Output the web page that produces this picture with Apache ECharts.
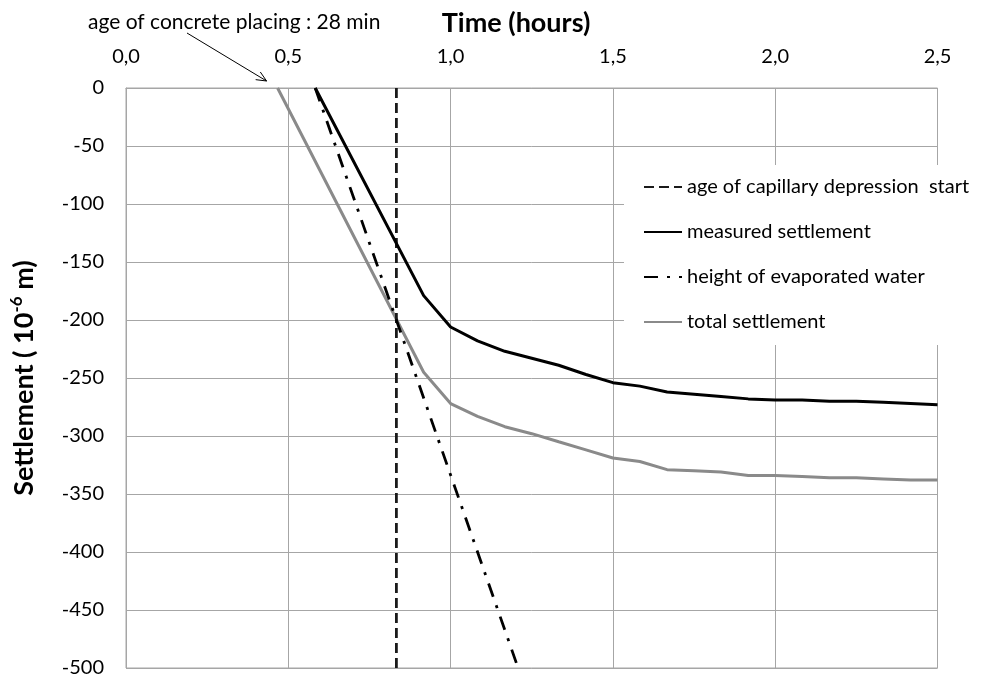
<!DOCTYPE html>
<html>
<head>
<meta charset="utf-8">
<script src="https://cdn.jsdelivr.net/npm/echarts@6/dist/echarts.min.js"></script>
<style>
html,body{margin:0;padding:0;background:#fff;}
#chart{width:990px;height:682px;}
</style>
</head>
<body>
<div id="chart"></div>
<script>
// ---- data (time in hours, settlement in 10^-6 m) ----
var xTicks = [0, 0.5, 1.0, 1.5, 2.0, 2.5];
var yTicks = [0, -50, -100, -150, -200, -250, -300, -350, -400, -450, -500];

var capTime = [0.833, 0.833];
var capValue = [0, -500];

var measuredTime = [0.583, 0.917, 1.0, 1.083, 1.167, 1.25, 1.333, 1.417, 1.5, 1.583, 1.667, 1.75, 1.833, 1.917, 2.0, 2.083, 2.167, 2.25, 2.333, 2.417, 2.5];
var measuredValue = [0, -179, -206, -218, -227, -233, -239, -247, -254, -257, -262, -264, -266, -268, -269, -269, -270, -270, -271, -272, -273];

var evapTime = [0.583, 1.208];
var evapValue = [0, -500];

var totalTime = [0.467, 0.917, 1.0, 1.083, 1.167, 1.25, 1.333, 1.417, 1.5, 1.583, 1.667, 1.75, 1.833, 1.917, 2.0, 2.083, 2.167, 2.25, 2.333, 2.417, 2.5];
var totalValue = [0, -245, -272, -283, -292, -298, -305, -312, -319, -322, -329, -330, -331, -334, -334, -335, -336, -336, -337, -338, -338];

var seriesNames = ['age of capillary depression  start', 'measured settlement', 'height of evaporated water', 'total settlement'];
var xTitle = 'Time (hours)';
var annotationText = 'age of concrete placing : 28 min';
var placingTime = 0.467;

function zip(a, b) { return a.map(function (v, i) { return [v, b[i]]; }); }

var FONT = 'Lato';
var chart = echarts.init(document.getElementById('chart'));
var option = {
  animation: false,
  backgroundColor: '#fff',
  textStyle: { fontFamily: FONT },
  grid: { left: 125, right: 52.5, top: 88, bottom: 14, show: true, borderColor: '#a6a6a6', borderWidth: 1, backgroundColor: 'transparent' },
  xAxis: {
    type: 'value', position: 'top', min: 0, max: 2.5, interval: 0.5,
    axisLine: { show: true, lineStyle: { color: '#a6a6a6' } },
    axisTick: { show: false },
    axisLabel: { fontSize: 20, color: '#000', margin: 21, formatter: function (v) { return v.toFixed(1).replace('.', ','); } },
    splitLine: { show: true, lineStyle: { color: '#a6a6a6', width: 1 } }
  },
  yAxis: {
    type: 'value', min: -500, max: 0, interval: 50,
    name: '{b|Settlement ( 10}{s|-6}{b| m)}', nameLocation: 'middle', nameGap: 86, nameRotate: 90,
    nameTextStyle: {
      rich: {
        b: { fontFamily: FONT, fontSize: 27, fontWeight: 'bold', color: '#000', lineHeight: 32 },
        s: { fontFamily: FONT, fontSize: 17, fontWeight: 'bold', color: '#000', verticalAlign: 'top', lineHeight: 17 }
      }
    },
    axisLine: { show: true, lineStyle: { color: '#a6a6a6' } },
    axisTick: { show: false },
    axisLabel: { fontSize: 20, color: '#000', margin: 22 },
    splitLine: { show: true, lineStyle: { color: '#a6a6a6', width: 1 } }
  },
  legend: {
    orient: 'vertical', left: 624, top: 165,
    backgroundColor: '#fff',
    padding: [11, 10, 12, 19],
    itemWidth: 38, itemHeight: 14, itemGap: 23,
    itemStyle: { opacity: 0 },
    textStyle: { fontFamily: FONT, fontSize: 20, color: '#000', lineHeight: 22 },
    data: seriesNames
  },
  series: [
    { name: seriesNames[0], type: 'line', data: zip(capTime, capValue), symbol: 'none', z: 3,
      lineStyle: { color: '#1a1a1a', width: 2.8, type: [10, 5] }, itemStyle: { color: '#1a1a1a' } },
    { name: seriesNames[1], type: 'line', data: zip(measuredTime, measuredValue), symbol: 'none', z: 4,
      lineStyle: { color: '#000', width: 3 }, itemStyle: { color: '#000' } },
    { name: seriesNames[2], type: 'line', data: zip(evapTime, evapValue), symbol: 'none', z: 3,
      lineStyle: { color: '#000', width: 2.8, type: [14, 9, 3, 9] }, itemStyle: { color: '#000' } },
    { name: seriesNames[3], type: 'line', data: zip(totalTime, totalValue), symbol: 'none', z: 2,
      lineStyle: { color: '#8a8a8a', width: 3 }, itemStyle: { color: '#8a8a8a' } }
  ]
};
chart.setOption(option);

// annotation with arrow pointing to the start of total settlement
var tip = chart.convertToPixel({ gridIndex: 0 }, [placingTime, 0]);
var tx = tip[0] - 11, ty = tip[1] - 7;
var sx = 187, sy = 33;
var ang = Math.atan2(ty - sy, tx - sx);
var hl = 11, hw = 0.42;
chart.setOption({
  graphic: [
    { type: 'text', x: 516, y: 23, style: { text: xTitle, fontFamily: FONT, fontSize: 27, fontWeight: 'bold', fill: '#000', align: 'center', verticalAlign: 'middle' } },
    { type: 'text', x: 88, y: 22, style: { text: annotationText, fontFamily: FONT, fontSize: 21, fill: '#000', align: 'left', verticalAlign: 'middle' } },
    { type: 'line', shape: { x1: sx, y1: sy, x2: tx, y2: ty }, style: { stroke: '#000', lineWidth: 1 } },
    { type: 'polyline', shape: { points: [
        [tx - hl * Math.cos(ang - hw), ty - hl * Math.sin(ang - hw)],
        [tx, ty],
        [tx - hl * Math.cos(ang + hw), ty - hl * Math.sin(ang + hw)]
      ] }, style: { stroke: '#000', lineWidth: 1, fill: null } }
  ]
});
</script>
</body>
</html>
